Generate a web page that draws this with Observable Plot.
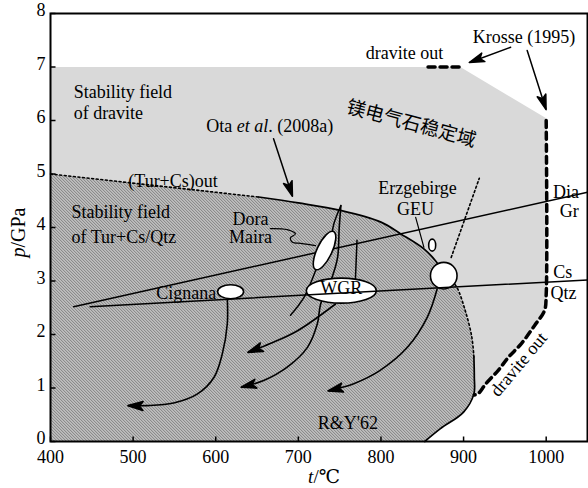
<!DOCTYPE html>
<html><head><meta charset="utf-8">
<script src="https://cdn.jsdelivr.net/npm/d3@7"></script>
<script src="https://cdn.jsdelivr.net/npm/@observablehq/plot@0.6"></script>
<style>
body{margin:0;background:#fff}
#chart text{font-family:"Liberation Serif","DejaVu Serif","Times New Roman",serif;}
</style>
</head><body><div id="chart"></div>
<script>
// ---------- data (t in °C, p in GPa) ----------
const xTicks = [400, 500, 600, 700, 800, 900, 1000];
const yTicks = [0, 1, 2, 3, 4, 5, 6, 7, 8];

// stability field of dravite (stippled)
const dravFieldT = [400, 896, 1000, 1000, 998, 986, 970, 954, 942, 927, 918, 913, 900, 872, 853, 400];
const dravFieldP = [7.0, 7.0, 6.04, 2.75, 2.45, 2.17, 1.83, 1.57, 1.33, 1.08, 0.90, 0.87, 0.55, 0.24, 0.0, 0.0];

// stability field of Tur+Cs/Qtz (hatched)
const turFieldT = [400, 652, 700, 751, 800, 824, 852, 866, 876, 886, 892, 902, 910, 912.5, 913, 912.5, 900, 872, 853, 400];
const turFieldP = [5.0, 4.57, 4.46, 4.32, 4.10, 3.88, 3.60, 3.38, 3.15, 3.0, 2.88, 2.45, 1.95, 1.58, 1.2, 0.89, 0.55, 0.24, 0.0, 0.0];

// boundaries
const turCsOutT = [400, 652];           const turCsOutP = [5.0, 4.57];
const otaT = [652, 700, 751, 800, 824, 852, 866, 876];
const otaP = [4.57, 4.46, 4.32, 4.10, 3.88, 3.60, 3.38, 3.15];
const ryDotT = [886, 892, 902, 910, 912.5];  const ryDotP = [3.0, 2.88, 2.45, 1.95, 1.58];
const rySolidT = [912.5, 913, 912.5, 900, 872, 853];  const rySolidP = [1.58, 1.2, 0.89, 0.55, 0.24, 0.0];
const ryUpT = [885, 919];               const ryUpP = [3.44, 4.92];
const dravOutTopT = [857, 897];         const dravOutTopP = [7.0, 7.0];
const krosseT = [1000, 1000, 998, 986, 970, 954, 942, 927, 918, 913];
const krosseP = [6.0, 2.75, 2.45, 2.17, 1.83, 1.57, 1.33, 1.08, 0.90, 0.87];

// reactions
const diaGrT = [428, 1050];   const diaGrP = [2.52, 4.66];
const csQtzT = [448, 1050];   const csQtzP = [2.52, 3.02];

// P-T paths
const cignanaPathT = [614, 614, 608, 598, 578, 549, 517, 495];
const cignanaPathP = [2.67, 2.2, 1.64, 1.2, 0.89, 0.72, 0.67, 0.67];
const wgrAT = [745, 699, 666, 640];     const wgrAP = [2.57, 2.07, 1.83, 1.67];
const wgrBT = [751.5, 749.5, 747.5, 741.5, 727, 723, 711, 686.5, 658, 632];
const wgrBP = [4.41, 4.0, 3.44, 3.1, 2.57, 2.2, 1.76, 1.39, 1.14, 1.02];
const dmTailT = [721, 707, 690.5];      const dmTailP = [3.2, 2.7, 2.36];
const dmPeakT = [751.5, 743, 741];      const dmPeakP = [4.41, 4.07, 3.9];
const wgrSpikeT = [771, 769];           const wgrSpikeP = [3.76, 3.0];
const geuPathT = [868, 856, 832, 799, 767, 737];
const geuPathP = [2.85, 2.32, 1.76, 1.33, 1.08, 0.95];

// pointer arrows / leaders
const otaArrowT = [670, 692.5];         const otaArrowP = [5.66, 4.6];
const krosseArrow1T = [957, 908];       const krosseArrow1P = [7.37, 7.09];
const krosseArrow2T = [977, 999.5];     const krosseArrow2P = [7.31, 6.22];
const geuLeaderT = [842, 852];          const geuLeaderP = [4.19, 3.63];
const dmLeaderT = [666, 686.5, 696.5, 690.5, 692.5, 704.6, 720.8];
const dmLeaderP = [3.98, 3.96, 3.88, 3.81, 3.73, 3.70, 3.66];

// peak-condition ellipses
const ellNames = ["Cignana", "Dora Maira", "WGR", "GEU loop"];
const ellT = [618, 731.7, 752, 862];
const ellP = [2.80, 3.57, 2.82, 3.67];
const ellRx = [13, 21, 35, 3.5];
const ellRy = [7, 7.5, 12.5, 6];
const ellAngle = [0, -64.7, 0, 0];
const circleT = [876];  const circleP = [3.10];

// labels
const leftLabels = ["Stability field", "of dravite", "Stability field", "of Tur+Cs/Qtz"];
const leftLabelT = [428, 428, 425.5, 425.5];
const leftLabelP = [6.52, 6.13, 4.28, 3.81];
const labels = ["Ota et al. (2008a)", "dravite out", "Krosse (1995)", "(Tur+Cs)out", "Dora", "Maira",
  "Erzgebirge", "GEU", "Dia", "Gr", "Cs", "Qtz", "Cignana", "WGR", "R&Y'62"];
const labelT = [665.5, 828.5, 973, 548.3, 642, 642, 844.2, 841.8, 1024, 1028, 1020, 1021, 564.4, 752, 760];
const labelP = [5.89, 7.25, 7.55, 4.86, 4.16, 3.82, 4.73, 4.34, 4.65, 4.30, 3.16, 2.77, 2.77, 2.87, 0.35];
const cnLabel = ["镁电气石稳定域"];  const cnT = [836.7]; const cnP = [5.94];
const rotLabel = ["dravite out"];     const rotT = [966.8]; const rotP = [1.44];

// ---------- helpers ----------
const pts = (T, P) => T.map((t, i) => ({t, p: P[i]}));
const NS = "http://www.w3.org/2000/svg";
function headMarker(color) {
  const m = document.createElementNS(NS, "marker");
  m.setAttribute("viewBox", "-15 -6 17 12");
  m.setAttribute("markerWidth", 17);
  m.setAttribute("markerHeight", 12);
  m.setAttribute("markerUnits", "userSpaceOnUse");
  m.setAttribute("orient", "auto");
  m.setAttribute("refX", 0);
  m.setAttribute("refY", 0);
  const p = document.createElementNS(NS, "path");
  p.setAttribute("d", "M-14,-4.5L1,0L-14,4.5L-10.5,0Z");
  p.setAttribute("fill", color === "none" ? "black" : color);
  m.appendChild(p);
  return m;
}
function ellipseSymbol(rx, ry, deg) {
  const a = deg * Math.PI / 180, c = Math.cos(a), s = Math.sin(a), k = 0.5523;
  const P = (u, v) => [u * c - v * s, u * s + v * c];
  return {draw(ctx) {
    ctx.moveTo(...P(rx, 0));
    ctx.bezierCurveTo(...P(rx, k * ry), ...P(k * rx, ry), ...P(0, ry));
    ctx.bezierCurveTo(...P(-k * rx, ry), ...P(-rx, k * ry), ...P(-rx, 0));
    ctx.bezierCurveTo(...P(-rx, -k * ry), ...P(-k * rx, -ry), ...P(0, -ry));
    ctx.bezierCurveTo(...P(k * rx, -ry), ...P(rx, -k * ry), ...P(rx, 0));
    ctx.closePath();
  }};
}
const tickUp = {draw(ctx) { ctx.moveTo(0, 0); ctx.lineTo(0, -5); }};
const tickRight = {draw(ctx) { ctx.moveTo(0, 0); ctx.lineTo(5, 0); }};

const line = (T, P, o = {}) => Plot.line(pts(T, P), {x: "t", y: "p", stroke: "black", strokeWidth: 1.5, ...o});
const dotted = {strokeDasharray: "2,2.6", strokeWidth: 1.6};
const thickDash = {strokeDasharray: "7,5", strokeWidth: 3.5};
const smooth = {curve: "catmull-rom"};
const arrow = {markerEnd: headMarker, curve: "catmull-rom", strokeWidth: 1.6};

const ellipses = ellNames.map((n, i) => Plot.dot([{t: ellT[i], p: ellP[i]}], {
  x: "t", y: "p", symbol: ellipseSymbol(ellRx[i], ellRy[i], ellAngle[i]), r: 5,
  fill: "white", stroke: "black", strokeWidth: 1.6
}));

const serif = "'Liberation Serif', 'DejaVu Serif', serif";

const chart = Plot.plot({
  width: 588, height: 488,
  marginLeft: 50, marginRight: 1, marginTop: 13, marginBottom: 47,
  x: {domain: [400, 1050], label: null},
  y: {domain: [0, 8], label: null},
  style: {fontFamily: serif, fontSize: "18px", color: "black", background: "white", overflow: "visible"},
  marks: [
    line(dravFieldT, dravFieldP, {fill: "url(#stipple)", stroke: "none"}),
    line(turFieldT, turFieldP, {fill: "url(#hatch)", stroke: "none"}),
    line(diaGrT, diaGrP),
    line(turCsOutT, turCsOutP, dotted),
    line(otaT, otaP, {...smooth, strokeWidth: 1.7}),
    line(ryDotT, ryDotP, {...dotted, ...smooth}),
    line(rySolidT, rySolidP, {...smooth, strokeWidth: 1.7}),
    line(ryUpT, ryUpP, dotted),
    line(dravOutTopT, dravOutTopP, thickDash),
    line(krosseT, krosseP, {...thickDash, ...smooth}),
    line(cignanaPathT, cignanaPathP, arrow),
    line(wgrAT, wgrAP, arrow),
    line(wgrBT, wgrBP, arrow),
    line(dmTailT, dmTailP, smooth),
    line(dmPeakT, dmPeakP, smooth),
    line(wgrSpikeT, wgrSpikeP),
    line(geuPathT, geuPathP, arrow),
    line(otaArrowT, otaArrowP, {markerEnd: headMarker}),
    line(krosseArrow1T, krosseArrow1P, {markerEnd: headMarker}),
    line(krosseArrow2T, krosseArrow2P, {markerEnd: headMarker}),
    line(geuLeaderT, geuLeaderP, {strokeWidth: 1.2}),
    line(dmLeaderT, dmLeaderP, {...smooth, strokeWidth: 1.2}),
    ...ellipses,
    Plot.dot(pts(circleT, circleP), {x: "t", y: "p", r: 13.3, fill: "white", stroke: "black", strokeWidth: 1.6}),
    line(csQtzT, csQtzP),
    Plot.text(leftLabels, {x: (d, i) => leftLabelT[i], y: (d, i) => leftLabelP[i], text: d => d, textAnchor: "start"}),
    Plot.text(labels, {x: (d, i) => labelT[i], y: (d, i) => labelP[i], text: d => d}),
    Plot.text(cnLabel, {x: cnT, y: cnP, text: d => d, rotate: 15, fontSize: 19}),
    Plot.text(rotLabel, {x: rotT, y: rotP, text: d => d, rotate: -50}),
    Plot.dot(xTicks, {x: d => d, frameAnchor: "bottom", symbol: tickUp, fill: "none", stroke: "black", strokeWidth: 1.5}),
    Plot.dot(yTicks, {y: d => d, frameAnchor: "left", symbol: tickRight, fill: "none", stroke: "black", strokeWidth: 1.5}),
    Plot.axisX(xTicks, {tickSize: 0, tickPadding: 9, tickFormat: d => String(d)}),
    Plot.axisY(yTicks, {tickSize: 0, tickPadding: 5, dy: -3, tickFormat: d => String(d)}),
    Plot.frame({stroke: "black", strokeWidth: 2}),
    Plot.text(["p/GPa"], {frameAnchor: "left", dx: -32, dy: 5, rotate: -90, textAnchor: "middle", lineAnchor: "middle", fontSize: 20}),
    Plot.text(["t/℃"], {frameAnchor: "bottom", dx: 5, dy: 35, textAnchor: "middle", lineAnchor: "middle", fontSize: 19})
  ]
});

// fill patterns
const defs = document.createElementNS(NS, "defs");
defs.innerHTML =
  '<pattern id="stipple" width="2" height="2" patternUnits="userSpaceOnUse">' +
  '<rect width="2" height="2" fill="#ffffff"/><rect width="1" height="1" fill="#a0a0a0"/>' +
  '<rect x="1" y="1" width="1" height="1" fill="#c4c4c4"/></pattern>' +
  '<pattern id="hatch" width="3" height="3" patternUnits="userSpaceOnUse">' +
  '<rect width="3" height="3" fill="#ffffff"/>' +
  '<rect x="0" y="0" width="1" height="1" fill="#333333"/><rect x="1" y="1" width="1" height="1" fill="#333333"/><rect x="2" y="2" width="1" height="1" fill="#333333"/>' +
  '<rect x="1" y="0" width="1" height="1" fill="#cccccc"/><rect x="2" y="1" width="1" height="1" fill="#cccccc"/><rect x="0" y="2" width="1" height="1" fill="#cccccc"/>' +
  '</pattern>';
chart.insertBefore(defs, chart.firstChild);

// italic parts and CJK font
for (const el of chart.querySelectorAll("text")) {
  const s = el.textContent;
  if (s === "p/GPa") el.innerHTML = '<tspan font-style="italic">p</tspan>/GPa';
  else if (s === "t/℃") el.innerHTML = '<tspan font-style="italic">t</tspan>/℃';
  else if (s === "Ota et al. (2008a)") el.innerHTML = 'Ota <tspan font-style="italic">et al</tspan>. (2008a)';
  else if (s === "镁电气石稳定域") el.style.setProperty("font-family", "'Noto Sans CJK SC', sans-serif", "important");
}
document.getElementById("chart").appendChild(chart);
</script></body></html>
